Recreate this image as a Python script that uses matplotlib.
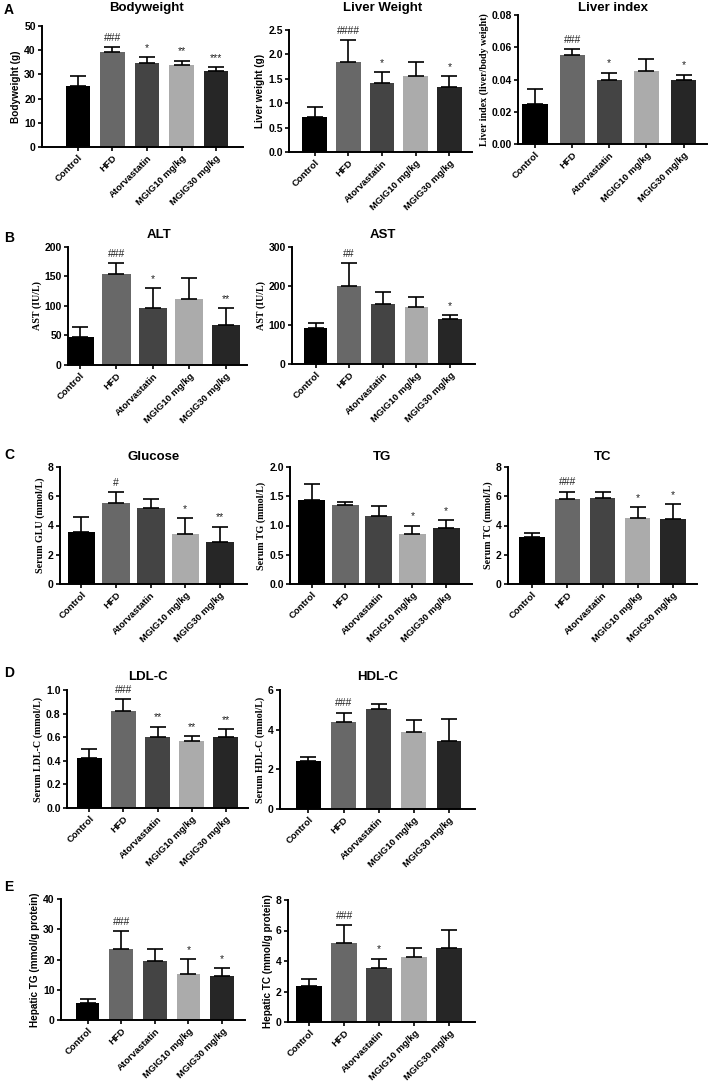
import matplotlib
matplotlib.use("Agg")
import matplotlib.pyplot as plt

groups = ['Control', 'HFD', 'Atorvastatin', 'MGIG10 mg/kg', 'MGIG30 mg/kg']
bar_colors = ['#000000', '#686868', '#444444', '#ababab', '#262626']

# mean values and upper SD per panel
bw_mean = [25.2, 39.3, 34.8, 33.7, 31.6]
bw_sd = [4.0, 1.9, 2.4, 2.0, 1.3]
bw_sig = ['', '###', '*', '**', '***']

lw_mean = [0.71, 1.84, 1.42, 1.55, 1.33]
lw_sd = [0.22, 0.45, 0.22, 0.30, 0.22]
lw_sig = ['', '####', '*', '', '*']

li_mean = [0.0245, 0.0554, 0.0400, 0.0455, 0.0400]
li_sd = [0.0093, 0.0033, 0.0040, 0.0075, 0.0030]
li_sig = ['', '###', '*', '', '*']

alt_mean = [48, 155, 97, 112, 67]
alt_sd = [16, 18, 34, 35, 29]
alt_sig = ['', '###', '*', '', '**']

ast_mean = [92, 200, 154, 145, 116]
ast_sd = [13, 59, 31, 28, 10]
ast_sig = ['', '##', '', '', '*']

glu_mean = [3.54, 5.51, 5.22, 3.40, 2.85]
glu_sd = [1.02, 0.75, 0.61, 1.11, 1.07]
glu_sig = ['', '#', '', '*', '**']

tg_mean = [1.44, 1.35, 1.16, 0.86, 0.95]
tg_sd = [0.27, 0.06, 0.17, 0.14, 0.14]
tg_sig = ['', '', '', '*', '*']

tc_mean = [3.24, 5.83, 5.89, 4.49, 4.42]
tc_sd = [0.23, 0.49, 0.37, 0.75, 1.02]
tc_sig = ['', '###', '', '*', '*']

ldl_mean = [0.42, 0.82, 0.60, 0.57, 0.60]
ldl_sd = [0.08, 0.10, 0.09, 0.04, 0.07]
ldl_sig = ['', '###', '**', '**', '**']

hdl_mean = [2.44, 4.40, 5.03, 3.90, 3.43]
hdl_sd = [0.20, 0.46, 0.26, 0.59, 1.11]
hdl_sig = ['', '###', '', '', '']

htg_mean = [5.5, 23.5, 19.5, 15.2, 14.4]
htg_sd = [1.5, 5.9, 4.1, 5.0, 2.7]
htg_sig = ['', '###', '', '*', '*']

htc_mean = [2.37, 5.21, 3.57, 4.25, 4.88]
htc_sd = [0.46, 1.13, 0.59, 0.63, 1.15]
htc_sig = ['', '###', '*', '', '']

W, H = 709, 1082
SANS = 'Liberation Sans'
SERIF = 'Liberation Serif'


def draw_panel(box, xlim, width, mean, sd, sig, ymax, ystep, yfmt,
               ylabel, yfont, title=None, title_xy=None):
    left, right, top, bottom = box
    ax = fig.add_axes([left / W, 1 - bottom / H, (right - left) / W, (bottom - top) / H])
    x = list(range(len(groups)))
    ax.bar(x, mean, width=width, color=bar_colors, edgecolor='none', zorder=2)
    ax.errorbar(x, mean, yerr=[[0] * len(sd), sd], fmt='none', ecolor='black',
                elinewidth=1.2, capsize=5.5, capthick=1.2, zorder=3)
    for xi, m, s, lab in zip(x, mean, sd, sig):
        if lab:
            ax.text(xi, m + s + ymax * 0.035, lab, ha='center', va='bottom',
                    fontsize=7.5, color='#222222', family=SANS)
    ax.set_xlim(*xlim)
    ax.set_ylim(0, ymax)
    ticks = [i * ystep for i in range(int(round(ymax / ystep)) + 1)]
    ax.set_yticks(ticks)
    ax.set_yticklabels([yfmt.format(t) for t in ticks], fontsize=7.5,
                       fontweight='bold', family=SANS)
    ax.set_xticks(x)
    ax.set_xticklabels(groups, rotation=45, ha='right', rotation_mode='anchor',
                       fontsize=6.8, fontweight='bold', family=SANS)
    ax.spines['top'].set_visible(False)
    ax.spines['right'].set_visible(False)
    ax.spines['left'].set_linewidth(1.4)
    ax.spines['bottom'].set_linewidth(1.4)
    ax.tick_params(axis='both', width=1.2, length=3, pad=1.5)
    ax.set_ylabel(ylabel, fontsize=7.2, fontweight='bold', family=yfont, labelpad=2)
    if title:
        fig.text(title_xy[0] / W, 1 - title_xy[1] / H, title, fontsize=9.5,
                 fontweight='bold', family=SANS, ha='center', va='center')
    return ax


fig = plt.figure(figsize=(W / 100, H / 100), dpi=100)

# row A
draw_panel((42, 243, 26, 147), (-1.04, 4.78), 0.70, bw_mean, bw_sd, bw_sig,
           50, 10, '{:.0f}', 'Bodyweight (g)', SANS, 'Bodyweight', (147, 8))
draw_panel((289, 472, 30, 152), (-0.76, 4.67), 0.74, lw_mean, lw_sd, lw_sig,
           2.5, 0.5, '{:.1f}', 'Liver weight (g)', SANS, 'Liver Weight', (383, 8))
draw_panel((518, 707, 15, 144), (-0.46, 4.63), 0.68, li_mean, li_sd, li_sig,
           0.08, 0.02, '{:.2f}', 'Liver index (liver/body weight)', SERIF,
           'Liver index', (613, 8))

# row B
draw_panel((68, 247, 247, 365), (-0.33, 4.58), 0.77, alt_mean, alt_sd, alt_sig,
           200, 50, '{:.0f}', 'AST (IU/L)', SERIF, 'ALT', (159, 235))
draw_panel((292, 475, 247, 364), (-0.70, 4.74), 0.71, ast_mean, ast_sd, ast_sig,
           300, 100, '{:.0f}', 'AST (IU/L)', SERIF, 'AST', (383, 235))

# row C
draw_panel((60, 247, 467, 584), (-0.62, 4.78), 0.80, glu_mean, glu_sd, glu_sig,
           8, 2, '{:.0f}', 'Serum GLU (mmol/L)', SERIF, 'Glucose', (154, 457))
draw_panel((290, 472, 467, 584), (-0.64, 4.77), 0.80, tg_mean, tg_sd, tg_sig,
           2.0, 0.5, '{:.1f}', 'Serum TG (mmol/L)', SERIF, 'TG', (382, 457))
draw_panel((508, 697, 467, 584), (-0.68, 4.68), 0.72, tc_mean, tc_sd, tc_sig,
           8, 2, '{:.0f}', 'Serum TC (mmol/L)', SERIF, 'TC', (603, 457))

# row D
draw_panel((67, 248, 690, 808), (-0.66, 4.66), 0.75, ldl_mean, ldl_sd, ldl_sig,
           1.0, 0.2, '{:.1f}', 'Serum LDL-C (mmol/L)', SERIF, 'LDL-C', (148, 677))
draw_panel((280, 475, 690, 809), (-0.81, 4.74), 0.71, hdl_mean, hdl_sd, hdl_sig,
           6, 2, '{:.0f}', 'Serum HDL-C (mmol/L)', SERIF, 'HDL-C', (378, 677))

# row E
draw_panel((61, 245, 899, 1020), (-0.79, 4.68), 0.70, htg_mean, htg_sd, htg_sig,
           40, 10, '{:.0f}', 'Hepatic TG (mmol/g protein)', SANS)
draw_panel((288, 475, 900, 1022), (-0.61, 4.74), 0.74, htc_mean, htc_sd, htc_sig,
           8, 2, '{:.0f}', 'Hepatic TC (mmol/g protein)', SANS)

# panel letters
for letter, ypix in [('A', 10), ('B', 238), ('C', 455), ('D', 673), ('E', 887)]:
    fig.text(4 / W, 1 - ypix / H, letter, fontsize=10, fontweight='bold',
             family=SANS, va='center', ha='left')

fig.savefig('out.png', dpi=100, facecolor='white')
